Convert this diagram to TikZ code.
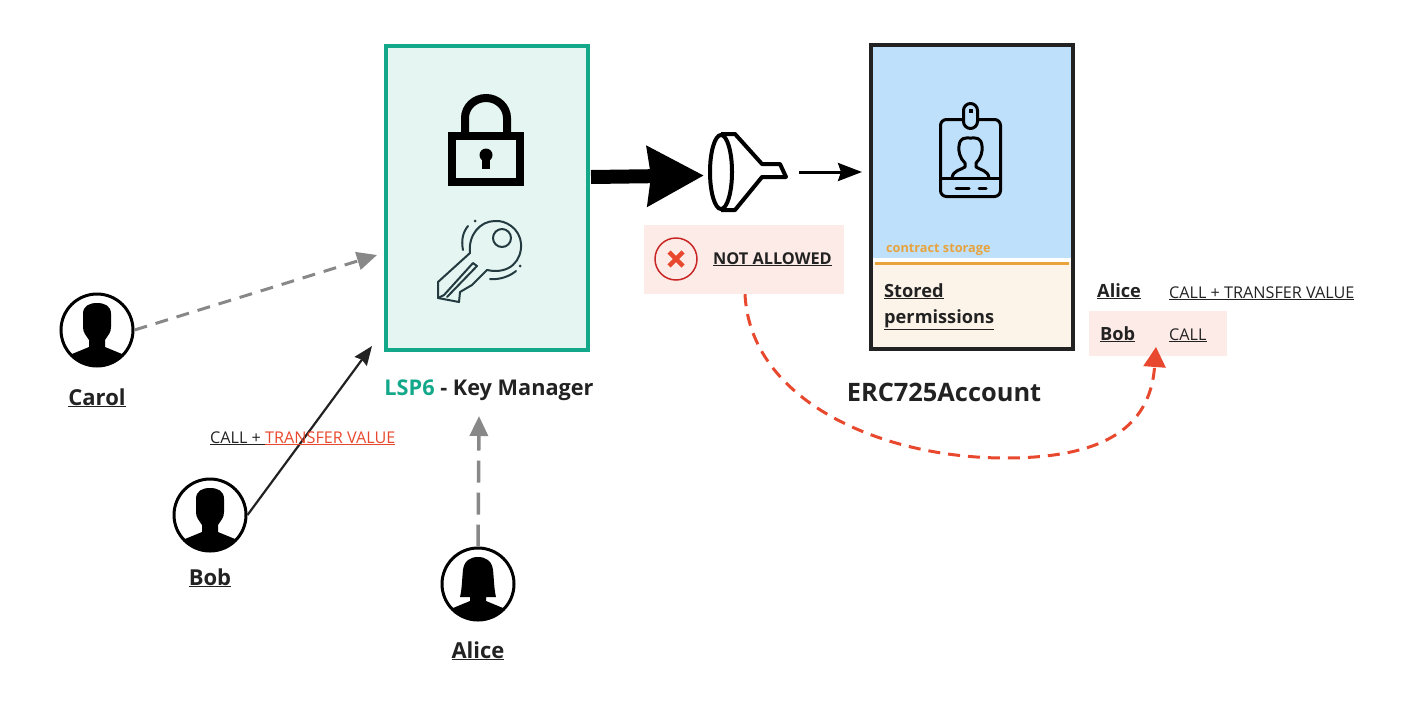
\documentclass[tikz,border=0pt]{standalone}
\usepackage{fontspec}
\setmainfont{Open Sans}
\usetikzlibrary{positioning,arrows.meta}
\definecolor{lspgreen}{HTML}{14A88A}
\definecolor{lspfill}{HTML}{E5F5F1}
\definecolor{ercdark}{HTML}{222222}
\definecolor{ercblue}{HTML}{BEE0FA}
\definecolor{ercorange}{HTML}{E8A33D}
\definecolor{erccream}{HTML}{FDF4E9}
\definecolor{warnfill}{HTML}{FDEBE7}
\definecolor{warnred}{HTML}{E8492E}
\definecolor{arrowgrey}{HTML}{888888}
\definecolor{keyline}{HTML}{233B40}
\tikzset{
  pics/man/.style={code={
    \clip (0,0) circle (36);
    \fill (-8,10) .. controls (-11,5) and (-14,3) .. (-14,-3) -- (-14,-16)
      .. controls (-14,-24) and (-8,-27) .. (0,-27) .. controls (8,-27) and (14,-24) .. (14,-16)
      -- (14,-3) .. controls (14,3) and (11,5) .. (8,10) -- (8,17) -- (25,24) -- (30,40) -- (-30,40) -- (-25,24) -- (-8,17) -- cycle;
  }},
  pics/woman/.style={code={
    \clip (0,0) circle (36);
    \fill (-8,13) -- (-18,13) .. controls (-16,5) and (-16,-5) .. (-15,-14)
      .. controls (-14,-23) and (-8,-27) .. (0,-27) .. controls (8,-27) and (14,-23) .. (15,-14)
      .. controls (16,-5) and (16,5) .. (18,13) -- (8,13) -- (8,17) -- (25,24) -- (30,40) -- (-30,40) -- (-25,24) -- (-8,17) -- cycle;
  }}
}
\begin{document}
\begin{tikzpicture}[x=1pt,y=-1pt,font=\bfseries]
\tikzstyle{person node}=[circle,draw,line width=3,minimum size=72,inner sep=0]
\tikzstyle{person label}=[font=\fontsize{22}{26}\selectfont\bfseries,text=ercdark,inner sep=0,anchor=base]
\tikzstyle{call text}=[font=\fontsize{16.2}{19}\selectfont\mdseries,text=ercdark,inner sep=0,anchor=base west]
\tikzstyle{name text}=[font=\fontsize{18.2}{22}\selectfont\bfseries,text=ercdark,inner sep=0,anchor=base west]
\tikzstyle{grey arrow}=[draw=arrowgrey,line width=3,-{Triangle[length=20,width=18]}]
\useasboundingbox (0,0) rectangle (1407,710);

% key manager
\node (keymanager) [draw=lspgreen,fill=lspfill,line width=3.5,minimum width=202,minimum height=304,inner sep=0] at (487,198) {};
\node (lsplabel) [inner sep=0,anchor=base,font=\fontsize{21.7}{26}\selectfont\bfseries,text=ercdark] at (489,395) {\textcolor{lspgreen}{LSP6} - Key Manager};
% lock
\draw[line width=8] (465,132) -- (465,118) arc (180:360:21 and 20) -- (507,132);
\draw[line width=8] (452,136) rectangle (520,182);
\fill (486,155) circle (6.5);
\fill (482,155) rectangle (490,169);
% key
\begin{scope}[draw=keyline,line width=2,line join=round,line cap=round]
\draw (438,282) -- (438,298) -- (459,302) -- (460,292) -- (472,285) -- (487,270)
  .. controls (510,275) and (522,260) .. (521,244) .. controls (520,228) and (505,220) .. (495,221)
  .. controls (480,221) and (468,235) .. (470,253) -- cycle;
\draw (502,238) circle (9);
\draw (444,295) -- (473,263) -- (477,266) -- (447,297);
\draw (438,298) -- (444,295);
\draw (463,250) .. controls (461,240) and (463,232) .. (468,226);
\draw (490,279) .. controls (500,280) and (510,276) .. (516,271);
\fill[keyline] (475,221) circle (1.5);
\fill[keyline] (520,266) circle (1.5);
\end{scope}

% people
\node (carol) [person node] at (97,330) {};
\pic at (carol) {man};
\node (carollabel) [person label] at (97,405) {\underline{Carol}};
\node (bob) [person node] at (210,515) {};
\pic at (bob) {man};
\node (boblabel) [person label] at (210,585) {\underline{Bob}};
\node (alice) [person node] at (478,584) {};
\pic at (alice) {woman};
\node (alicelabel) [person label] at (478,658) {\underline{Alice}};

\coordinate (caroltip) at (377,255);
\coordinate (bobtip) at (372,346);
\coordinate (alicetip) at (479,416);
\draw[grey arrow,dash pattern=on 13 off 9] (carol.east) -- (caroltip);
\draw[grey arrow,line width=3.5,dash pattern=on 22 off 10] (alice.north) -- (alicetip);
\draw[ercdark,line width=2.2,-{Stealth[length=19,width=15,inset=2]}] (bob.east) -- (bobtip);
\node (bobcall) [call text] at (210,443) {\underline{CALL + }\textcolor{warnred}{\underline{TRANSFER VALUE}}};

% filter
\coordinate (gatein) at (591,177);
\coordinate (gateout) at (704,175.5);
\draw[line width=14,-{Stealth[length=56,width=58,inset=3]}] (gatein) -- (gateout);
\draw[line width=4,line join=round] (721,134) -- (735,134) -- (762,164) -- (780,164) -- (786,177) -- (762,177) -- (735,210) -- (721,210);
\draw[line width=4] (721,172) ellipse (11 and 37);
\coordinate (gateright) at (799,172);
\coordinate (accounttip) at (862,172);
\draw[line width=3,-{Stealth[length=24,width=18,inset=3]}] (gateright) -- (accounttip);

% not allowed
\node (notallowed) [fill=warnfill,minimum width=200,minimum height=69,inner sep=0] at (744,259.5) {};
\node (crossmark) [circle,draw=red!75!black!85,line width=1.5,fill=warnfill,minimum size=42,inner sep=0] at (676,259) {};
\draw[warnred,line width=4.5] (669,252) -- (683,266) (683,252) -- (669,266);
\node (notallowedtext) [inner sep=0,anchor=base west,text=ercdark,font=\fontsize{16.3}{19}\selectfont\bfseries] at (713,264) {\underline{NOT ALLOWED}};

% account
\fill[ercblue] (873,47) rectangle (1071,258);
\fill[white] (873,258) rectangle (1071,262);
\fill[erccream] (873,262) rectangle (1071,347);
\draw[ercorange,line width=3] (875,263.5) -- (1069,263.5);
\node (account) [draw=ercdark,line width=4,minimum width=202,minimum height=304,inner sep=0] at (972,197) {};
\node (accountlabel) [inner sep=0,anchor=base,text=ercdark,font=\fontsize{25.4}{30}\selectfont\bfseries] at (944,401) {ERC725Account};
\node (storagelabel) [inner sep=0,anchor=base west,text=ercorange,font=\fontsize{12.7}{15}\selectfont\bfseries] at (886,252) {contract storage};
\node (storedtop) [name text] at (884,297) {\underline{Stored}};
\node (storedbottom) [name text] at (884,323) {\underline{permissions}};
% badge
\begin{scope}[line width=3,draw=black,line join=round]
\draw[rounded corners=6] (963.5,119.5) -- (940.5,119.5) -- (940.5,196.5) -- (1000.5,196.5) -- (1000.5,119.5) -- (977.5,119.5);
\draw (963.5,110.5) arc (180:360:7) -- (977.5,121.5) arc (0:180:7) -- cycle;
\fill (968.5,109) rectangle (972.5,113);
\draw (940.5,178) -- (1000.5,178);
\draw (952,178) .. controls (953,170) and (961,170) .. (965,167) -- (965,163)
  .. controls (960,159) and (958,150) .. (959,146) .. controls (960,137) and (965,138) .. (970.5,138)
  .. controls (976,138) and (981,137) .. (982,146) .. controls (983,150) and (981,159) .. (976,163)
  -- (976,167) .. controls (980,170) and (988,170) .. (989,178);
\draw[line cap=round] (956,188) -- (969,188);
\draw[line cap=round] (979,188) -- (986,188);
\end{scope}

% permissions table
\node (permbob) [fill=warnfill,minimum width=138,minimum height=45,inner sep=0] at (1158,333.5) {};
\node (alicename) [name text] at (1097,297) {\underline{Alice}};
\node (alicecall) [call text] at (1169,298) {\underline{CALL + TRANSFER VALUE}};
\node (bobname) [name text] at (1100,340) {\underline{Bob}};
\node (bobperm) [call text] at (1169,340) {\underline{CALL}};

\coordinate (permtip) at (1156,347);
\draw[warnred,line width=3,dash pattern=on 12 off 8,-{Triangle[length=20,width=22]}] (notallowed.south) ++(1,0)
  .. controls (750,400) and (880,458) .. (1005,458)
  .. controls (1100,458) and (1150,430) .. (permtip);
\end{tikzpicture}
\end{document}
